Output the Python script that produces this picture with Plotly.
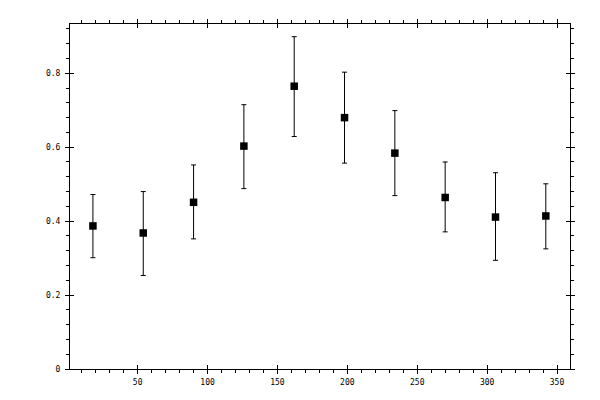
import plotly.graph_objects as go

x_vals = [18, 54, 90, 126, 162, 198, 234, 270, 306, 342]
y_vals = [0.387, 0.368, 0.451, 0.603, 0.765, 0.680, 0.584, 0.464, 0.411, 0.414]
err_up = [0.085, 0.112, 0.101, 0.112, 0.134, 0.123, 0.115, 0.096, 0.120, 0.087]
err_down = [0.086, 0.115, 0.099, 0.115, 0.136, 0.123, 0.115, 0.093, 0.117, 0.089]

x_range = [1.6, 359.3]
y_range = [0, 0.9333]

fig = go.Figure()
fig.add_trace(go.Scatter(
    x=x_vals, y=y_vals, mode='markers',
    marker=dict(symbol='square', size=7.5, color='black'),
    error_y=dict(type='data', symmetric=False, array=err_up, arrayminus=err_down,
                 color='black', thickness=1, width=2.5),
    showlegend=False,
))

tick_font = dict(family='DejaVu Sans Mono', size=8, color='black')

# outer axes: labels, outward major + minor ticks
common_x = dict(range=x_range, showgrid=False, zeroline=False, showline=True,
                linecolor='black', linewidth=1, mirror='allticks')
common_y = dict(range=y_range, showgrid=False, zeroline=False, showline=True,
                linecolor='black', linewidth=1, mirror='allticks')

# page body adds an 8px offset, so margins are shifted to compensate
fig.update_layout(
    width=600, height=400,
    margin=dict(l=62, r=38, t=11, b=39),
    plot_bgcolor='white', paper_bgcolor='white',
    xaxis=dict(**common_x, tickmode='linear', tick0=0, dtick=50,
               ticks='outside', ticklen=4, tickwidth=1, tickcolor='black',
               tickfont=tick_font, ticklabelstandoff=1,
               minor=dict(dtick=10, tick0=0, ticks='outside', ticklen=3,
                          tickwidth=1, tickcolor='black')),
    yaxis=dict(**common_y, tickmode='linear', tick0=0, dtick=0.2,
               ticks='outside', ticklen=4, tickwidth=1, tickcolor='black',
               tickfont=tick_font, ticklabelstandoff=3,
               minor=dict(dtick=0.04, tick0=0, ticks='outside', ticklen=3,
                          tickwidth=1, tickcolor='black')),
    # inner half of the major ticks
    xaxis2=dict(**common_x, overlaying='x', tickmode='linear', tick0=0, dtick=50,
                ticks='inside', ticklen=4, tickwidth=1, tickcolor='black',
                showticklabels=False),
    yaxis2=dict(**common_y, overlaying='y', tickmode='linear', tick0=0, dtick=0.2,
                ticks='inside', ticklen=4, tickwidth=1, tickcolor='black',
                showticklabels=False),
)

# invisible trace to bring up the second pair of axes
fig.add_trace(go.Scatter(x=[None], y=[None], xaxis='x2', yaxis='y2',
                         showlegend=False, hoverinfo='skip'))

fig.write_html("out.html")
